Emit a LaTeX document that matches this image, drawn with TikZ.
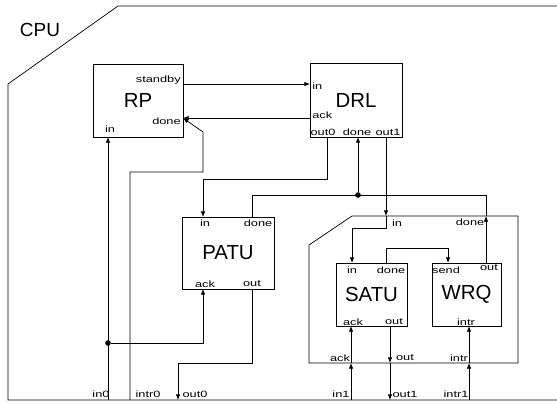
\documentclass[tikz,border=0pt]{standalone}
\usepackage{fontspec}
\setmainfont{Liberation Sans}
\newfontfamily\portfont[FakeStretch=1.4]{Liberation Sans}
\usetikzlibrary{arrows.meta}

\begin{document}
\begin{tikzpicture}[x=0.025cm,y=-0.025cm,
  unit/.style={draw,line width=0.5pt,inner sep=0pt,font=\fontsize{14.5}{16}\selectfont},
  port/.style={inner sep=0pt,font=\portfont\fontsize{6.5}{7}\selectfont},
  wire/.style={line width=0.5pt},
  sig/.style={wire,-{Latex[length=1.4mm,width=1.1mm]}},
  dot/.style={circle,fill,inner sep=0pt,minimum size=1.4mm}
]
  \useasboundingbox (0,0) rectangle (557,403);
  % CPU outline, open at the right
  \draw[wire] (560,6) -- (118,6) -- (8,84) -- (8,400) -- (560,400);
  \node[font=\fontsize{13.5}{15}\selectfont] (cpu) at (40,30) {CPU};

  \node[unit,minimum width=2.25cm,minimum height=1.825cm] (rp)   at (138,100.5) {RP};
  \node[unit,minimum width=2.3cm,minimum height=1.85cm]   (drl)  at (356,100)   {DRL};
  \node[unit,minimum width=2.3cm,minimum height=1.8cm]    (patu) at (228,253)   {PATU};
  \node[unit,minimum width=1.775cm,minimum height=1.575cm](satu) at (371.5,294.5) {SATU};
  \node[unit,minimum width=1.725cm,minimum height=1.575cm](wrq)  at (466.5,294.5) {WRQ};
  % inner block round SATU and WRQ
  \draw[wire] (309,245) -- (352,216) -- (518,216) -- (518,363) -- (309,363) -- cycle;

  % ports
  \coordinate (rp-stby) at (183,84);   \coordinate (rp-done) at (183,118);
  \coordinate (rp-in)   at (108,137);
  \coordinate (drl-in)  at (310,84);   \coordinate (drl-ack) at (310,118);
  \coordinate (drl-out0) at (327,137); \coordinate (drl-done) at (358,137);
  \coordinate (drl-out1) at (386,137);
  \coordinate (patu-in) at (203,217);  \coordinate (patu-done) at (252,217);
  \coordinate (patu-ack) at (203,289); \coordinate (patu-out) at (252,289);
  \coordinate (satu-in) at (352,263);  \coordinate (satu-done) at (386,263);
  \coordinate (satu-ack) at (351,326); \coordinate (satu-out) at (390,326);
  \coordinate (wrq-send) at (448,263); \coordinate (wrq-out) at (486,263);
  \coordinate (wrq-intr) at (469,326);
  \coordinate (grp-in) at (386,216);   \coordinate (grp-done) at (486,216);
  \coordinate (grp-ack) at (351,363);  \coordinate (grp-out) at (390,363);
  \coordinate (grp-intr) at (469,363);
  \coordinate (cpu-in0) at (108,400);  \coordinate (cpu-intr0) at (130,400);
  \coordinate (cpu-out0) at (178,400); \coordinate (cpu-in1) at (351,400);
  \coordinate (cpu-out1) at (390,400); \coordinate (cpu-intr1) at (469,400);

  % wires
  \draw[sig] (rp-stby) -- (drl-in);
  \draw[sig] (drl-ack) -- (rp-done);
  \draw[sig] (cpu-intr0) -- (130,172) -- (203,172) -- (203,132) -- (rp-done);
  \draw[sig] (cpu-in0) -- (rp-in);
  \node[dot] (j0) at (108,343) {};
  \draw[sig] (j0) -- (203,343) -- (patu-ack);
  \draw[sig] (drl-out0) -- (327,179) -- (203,179) -- (patu-in);
  \draw[sig] (patu-out) -- (252,363) -- (178,363) -- (cpu-out0);
  \draw[wire] (patu-done) -- (252,195) -- (486,195) -- (grp-done);
  \node[dot] (j1) at (358,195) {};
  \draw[sig] (j1) -- (drl-done);
  \draw[sig] (drl-out1) -- (grp-in);
  \draw[sig] (grp-in) -- (386,228) -- (352,228) -- (satu-in);
  \draw[sig] (wrq-out) -- (grp-done);
  \draw[sig] (satu-done) -- (386,248) -- (448,248) -- (wrq-send);
  \draw[sig] (cpu-in1) -- (grp-ack);
  \draw[sig] (grp-ack) -- (satu-ack);
  \draw[sig] (satu-out) -- (grp-out);
  \draw[sig] (grp-out) -- (cpu-out1);
  \draw[sig] (cpu-intr1) -- (grp-intr);
  \draw[sig] (grp-intr) -- (wrq-intr);

  % port labels
  \node[port,anchor=east] (l-stby) at (181,80) {standby};
  \node[port,anchor=east] (l-rpdone) at (181,121) {done};
  \node[port] (l-rpin) at (110,129) {in};
  \node[port,anchor=west] (l-drlin) at (312,86) {in};
  \node[port,anchor=west] (l-drlack) at (312,115) {ack};
  \node[port] (l-out0) at (323,132) {out0};
  \node[port] (l-drldone) at (357,132) {done};
  \node[port] (l-out1) at (388,132) {out1};
  \node[port] (l-patuin) at (205,223) {in};
  \node[port] (l-patudone) at (258,223) {done};
  \node[port] (l-patuack) at (205,284) {ack};
  \node[port] (l-patuout) at (252,284) {out};
  \node[port] (l-satuin) at (352,270) {in};
  \node[port] (l-satudone) at (391,270) {done};
  \node[port] (l-satuack) at (353,322) {ack};
  \node[port] (l-satuout) at (394,322) {out};
  \node[port] (l-send) at (446,270) {send};
  \node[port] (l-wrqout) at (489,268) {out};
  \node[port] (l-intr) at (466,322) {intr};
  \node[port] (l-grpin) at (397,223) {in};
  \node[port] (l-grpdone) at (470,222) {done};
  \node[port] (l-grpack) at (340,358) {ack};
  \node[port] (l-grpout) at (405,358) {out};
  \node[port] (l-grpintr) at (459,358) {intr};
  \node[port] (l-in0) at (101,394) {in0};
  \node[port] (l-intr0) at (148,394) {intr0};
  \node[port] (l-cout0) at (195,394) {out0};
  \node[port] (l-in1) at (341,394) {in1};
  \node[port] (l-cout1) at (405,394) {out1};
  \node[port] (l-intr1) at (456,394) {intr1};
\end{tikzpicture}
\end{document}
